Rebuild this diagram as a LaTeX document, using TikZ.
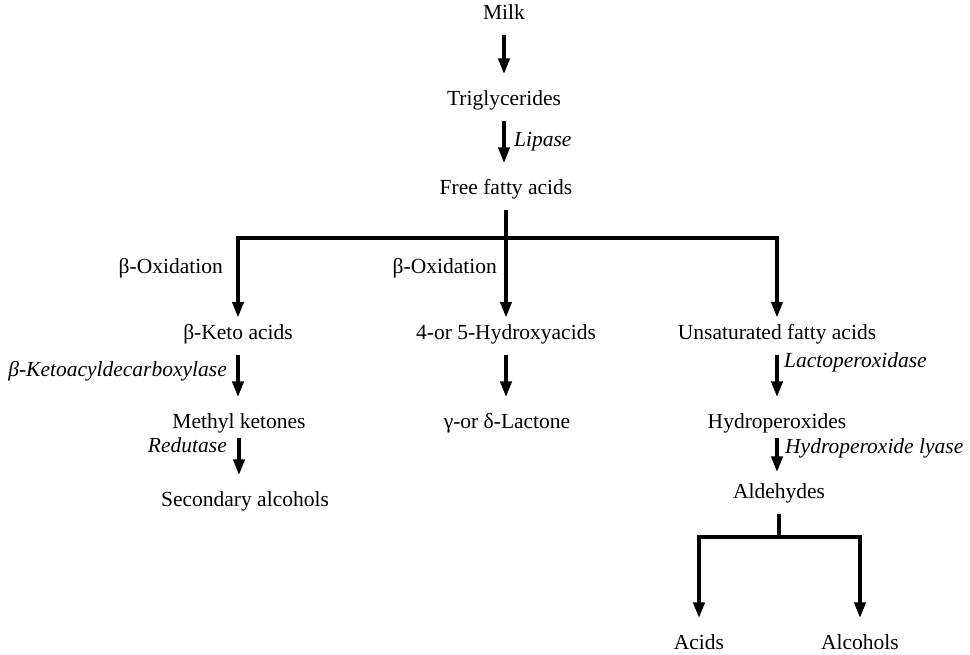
\documentclass[tikz,border=0pt]{standalone}
\usepackage{fontspec}
\setmainfont{Liberation Serif}
\usetikzlibrary{arrows.meta}
\begin{document}
\begin{tikzpicture}[x=1pt,y=-1pt,
  txt/.style={font=\fontsize{21.5}{25}\selectfont, inner xsep=0pt, inner ysep=10.5pt, text height=15pt, text depth=5pt},
  lbl/.style={font=\fontsize{21.5}{25}\selectfont\itshape, inner sep=0pt},
  lbu/.style={font=\fontsize{21.5}{25}\selectfont, inner sep=0pt},
  flow/.style={line width=4.5pt, -{Triangle[length=16pt,width=11pt]}, line join=miter, shorten >=5pt},
  stem/.style={line width=4.5pt},
]
\useasboundingbox (0,0) rectangle (970,654);

\node[txt] (milk) at (504,14) {Milk};
\node[txt] (trig) at (504,100) {Triglycerides};
\node[txt] (ffa) at (506,189) {Free fatty acids};
\node[txt] (keto) at (238,334) {β-Keto acids};
\node[txt] (hydroxy) at (506,334) {4-or 5-Hydroxyacids};
\node[txt] (unsat) at (777,334) {Unsaturated fatty acids};
\node[txt] (methyl) at (239,423) {Methyl ketones};
\node[txt] (lactone) at (507,423) {γ-or δ-Lactone};
\node[txt] (hydroper) at (777,423) {Hydroperoxides};
\node[txt] (secalc) at (245,501) {Secondary alcohols};
\node[txt] (ald) at (779,493) {Aldehydes};
\node[txt] (acids) at (699,644) {Acids};
\node[txt] (alcs) at (860,644) {Alcohols};

\node[lbl, anchor=base west] (lipase) at (514,146) {Lipase};
\node[lbu, anchor=base east] (box1) at (223,273) {β-Oxidation};
\node[lbu, anchor=base east] (box2) at (497,273) {β-Oxidation};
\node[lbl, anchor=base east] (kdc) at (227,376) {β-Ketoacyldecarboxylase};
\node[lbl, anchor=base east] (red) at (227,452) {Redutase};
\node[lbl, anchor=base west] (lpo) at (784,367) {Lactoperoxidase};
\node[lbl, anchor=base west] (hpl) at (785,453) {Hydroperoxide lyase};

\coordinate (forkY) at (0,238);
\coordinate (aldY) at (0,537);

\draw[flow] (milk.south) -- (milk.south |- trig.north);
\draw[flow] (trig.south) -- (trig.south |- ffa.north);
\draw[flow, shorten >=-4.5pt] (ffa.south) -- (ffa.south |- hydroxy.north);
\draw[flow, shorten >=-4.5pt] (ffa.south |- forkY) -| (keto.north);
\draw[flow, shorten >=-4.5pt] (ffa.south |- forkY) -| (unsat.north);

\draw[flow] (keto.south) -- (keto.south |- methyl.north);
\draw[flow, shorten <=-6pt] (methyl.south) -- (methyl.south |- secalc.north);
\draw[flow] (hydroxy.south) -- (hydroxy.south |- lactone.north);
\draw[flow] (unsat.south) -- (unsat.south |- hydroper.north);
\draw[flow, shorten <=-6pt, shorten >=0pt] (hydroper.south) -- (hydroper.south |- ald.north);

\draw[stem] (ald.south) -- (ald.south |- aldY);
\draw[flow] (ald.south |- aldY) -| (acids.north);
\draw[flow] (ald.south |- aldY) -| (alcs.north);
\end{tikzpicture}
\end{document}
